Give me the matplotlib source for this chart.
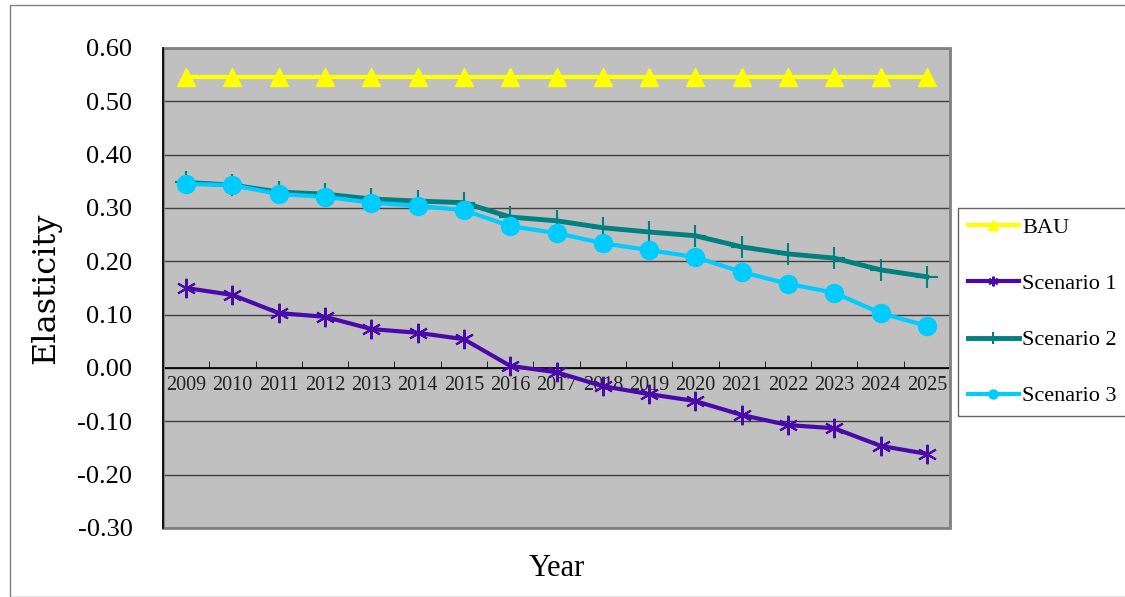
import matplotlib
matplotlib.use("Agg")
import matplotlib.pyplot as plt
from matplotlib.patches import Rectangle

years = [str(y) for y in range(2009, 2026)]
bau = [0.545] * 17
scen1 = [0.150, 0.137, 0.103, 0.096, 0.073, 0.066, 0.054, 0.004, -0.008,
         -0.034, -0.049, -0.062, -0.088, -0.107, -0.113, -0.146, -0.161]
scen2 = [0.348, 0.343, 0.330, 0.326, 0.317, 0.313, 0.310, 0.283, 0.276,
         0.263, 0.255, 0.248, 0.227, 0.214, 0.206, 0.184, 0.171]
scen3 = [0.345, 0.343, 0.326, 0.321, 0.310, 0.304, 0.296, 0.266, 0.253,
         0.234, 0.221, 0.208, 0.180, 0.158, 0.141, 0.103, 0.079]
yticks = [-0.3, -0.2, -0.1, 0.0, 0.1, 0.2, 0.3, 0.4, 0.5, 0.6]

plt.rcParams["font.family"] = ["Liberation Serif", "DejaVu Serif"]

fig = plt.figure(figsize=(11.25, 5.97), dpi=100)
# outer frame of the figure
fig.patches.append(Rectangle((10 / 1125, 0), 2, (592 / 597), transform=fig.transFigure,
                             fill=False, edgecolor="#808080", linewidth=1))
ax = fig.add_axes([163 / 1125, 1 - 528 / 597, 787 / 1125, 480 / 597])
ax.set_facecolor("#C0C0C0")

x = list(range(len(years)))
ax.plot(x, bau, color="#FFFF00", lw=3, marker="^", ms=13, label="BAU", zorder=3)
ax.plot(x, scen1, color="#4A0AAA", lw=3, marker=(6, 2, 0), ms=14, mew=1.5,
        label="Scenario 1", zorder=3)
ax.plot(x, scen2, color="#008080", lw=3.5, marker="+", ms=16, mew=1.5,
        label="Scenario 2", zorder=3)
ax.plot(x, scen3, color="#00CCFF", lw=3, marker="o", ms=13, label="Scenario 3", zorder=4)

ax.set_xlim(-0.5, len(years) - 0.5)
ax.set_ylim(-0.3, 0.6)
ax.set_yticks(yticks)
ax.set_yticklabels(["%.2f" % v for v in yticks], fontsize=19)
ax.tick_params(axis="y", length=0, pad=22)
ax.yaxis.grid(True, color="#404040", lw=1)
ax.set_axisbelow(True)

# category axis crossing at zero
ax.spines["bottom"].set_position(("data", 0))
ax.spines["bottom"].set_color("black")
ax.spines["bottom"].set_linewidth(1.2)
ax.set_xticks(x)
ax.set_xticklabels(years, fontsize=14.5)
ax.set_xticks([i + 0.5 for i in x], minor=True)
ax.tick_params(axis="x", which="major", length=0, pad=6, colors="#222222")
ax.tick_params(axis="x", which="minor", direction="in", length=5, color="black")
for s in ["top", "right", "left"]:
    ax.spines[s].set_visible(False)
ax.add_patch(Rectangle((0, 0), 1, 1, transform=ax.transAxes, fill=False,
                       edgecolor="#808080", lw=2, zorder=5, clip_on=False))
ax.plot([0, 0], [0, 1], transform=ax.transAxes, color="black", lw=1.2,
        clip_on=False, zorder=6)

ax.set_ylabel("Elasticity", fontsize=23, family=["DejaVu Serif"])
ax.yaxis.set_label_coords(-0.13, 0.5)
ax.set_xlabel("Year", fontsize=22)
ax.xaxis.set_label_coords(0.5, -0.055)

leg = ax.legend(loc="center left", bbox_to_anchor=(1.01, 0.45), fontsize=16,
                frameon=True, fancybox=False, edgecolor="#404040",
                handlelength=2.3, handletextpad=0.15, labelspacing=1.6,
                borderpad=0.45, markerscale=0.5, borderaxespad=0)
leg.get_frame().set_linewidth(1)

fig.savefig("out.png", dpi=100)
